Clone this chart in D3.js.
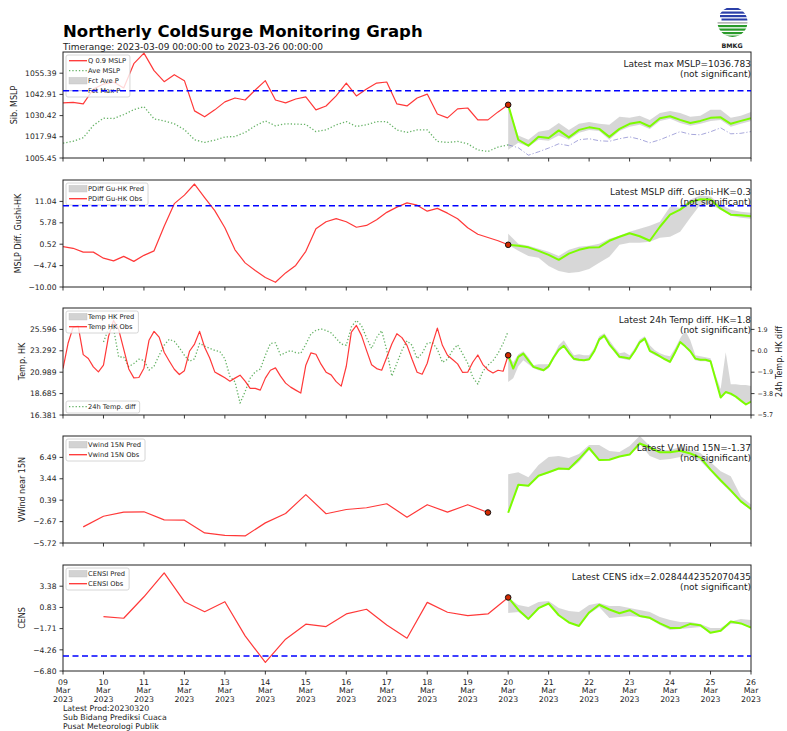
<!DOCTYPE html>
<html>
<head>
<meta charset="utf-8">
<script src="https://cdn.jsdelivr.net/npm/d3@7"></script>
<style>
body { margin: 0; background: #fff; }
svg { font-family: "DejaVu Sans", sans-serif; }
</style>
</head>
<body>
<div id="chart"></div>
<script>
// ---------- data ----------
// panel 1: Siberian MSLP, 6-hourly obs from 09 Mar 00Z, forecast 6-hourly from 20 Mar 00Z
var mslpQ90 = [1037.9, 1038.2, 1037.3, 1046.1, 1049.0, 1050.2, 1046.7, 1061.0, 1067.2, 1056.9, 1050.4, 1054.5, 1051.0, 1033.2, 1029.7, 1033.8, 1038.5, 1040.8, 1039.6, 1045.5, 1051.0, 1039.6, 1037.9, 1040.2, 1041.4, 1033.8, 1036.1, 1042.0, 1049.6, 1042.0, 1046.1, 1049.6, 1050.2, 1037.3, 1036.1, 1040.8, 1043.1, 1031.4, 1029.1, 1034.4, 1034.9, 1027.9, 1027.9, 1032.6, 1036.78];
var mslpAve = [1014.2, 1015.3, 1017.4, 1024.6, 1028.9, 1028.7, 1031.0, 1033.9, 1035.7, 1028.5, 1027.3, 1025.6, 1022.2, 1016.2, 1014.6, 1016.0, 1017.8, 1018.1, 1020.5, 1024.4, 1027.3, 1024.4, 1025.6, 1025.4, 1025.2, 1021.0, 1022.0, 1025.0, 1026.9, 1024.0, 1025.0, 1026.9, 1026.9, 1022.0, 1020.5, 1022.0, 1022.0, 1015.2, 1014.6, 1015.2, 1013.8, 1010.2, 1009.3, 1011.9, 1013.2];
var mslpFcMax = [1036.78, 1016.2, 1012.7, 1018.0, 1017.2, 1021.7, 1017.6, 1022.0, 1023.5, 1022.6, 1017.9, 1022.6, 1025.6, 1026.7, 1024.0, 1028.9, 1030.0, 1027.9, 1026.1, 1027.3, 1029.1, 1029.4, 1025.6, 1027.3, 1028.9];
var mslpFcLo = [1010.3, 1014.4, 1012.1, 1016.2, 1015.6, 1018.7, 1016.2, 1020.3, 1022.0, 1021.4, 1016.2, 1021.4, 1023.8, 1025.0, 1022.6, 1027.3, 1028.5, 1026.1, 1024.4, 1025.6, 1027.3, 1027.9, 1023.8, 1025.6, 1027.3];
var mslpFcHi = [1036.8, 1018.7, 1016.2, 1020.9, 1022.0, 1026.1, 1022.0, 1025.6, 1026.7, 1025.6, 1025.0, 1029.7, 1029.1, 1030.3, 1027.9, 1032.0, 1033.2, 1032.0, 1029.7, 1030.3, 1033.8, 1033.8, 1029.1, 1030.3, 1032.6];
var mslpFcAve = [1013.2, 1011.5, 1007.1, 1009.1, 1011.3, 1013.8, 1012.7, 1016.2, 1016.8, 1015.6, 1015.3, 1016.8, 1017.9, 1016.5, 1014.4, 1016.2, 1018.6, 1021.0, 1019.4, 1019.1, 1020.9, 1023.2, 1019.7, 1020.0, 1021.0];
var mslpTicks = [1005.45, 1017.94, 1030.42, 1042.91, 1055.39];

// panel 2: MSLP diff Gushi - HK
var pdiffObs = [-0.05, -0.49, -1.43, -1.43, -2.91, -3.58, -2.47, -3.70, -2.22, -1.11, 4.94, 10.49, 12.59, 15.31, 11.97, 8.76, 4.57, -0.86, -4.07, -5.93, -7.65, -8.84, -6.54, -4.69, -1.23, 4.32, 6.05, 6.79, 6.05, 4.69, 5.13, 6.54, 8.35, 9.63, 10.67, 10.12, 8.64, 9.33, 8.15, 6.79, 4.57, 2.96, 2.17, 1.36, 0.37];
var pdiffFc = [0.37, 0.12, -0.25, -1.11, -2.10, -3.33, -1.80, -0.86, -0.30, -0.20, 1.36, 2.35, 3.21, 2.47, 1.36, 4.81, 7.78, 9.01, 10.86, 11.55, 11.48, 9.26, 7.78, 7.65, 7.36];
var pdiffFcLo = [0.37, -1.11, -2.35, -2.84, -4.81, -6.05, -6.54, -6.30, -5.56, -4.07, -2.59, 0.37, 0.86, 0.86, 1.11, 2.10, 2.35, 3.58, 7.04, 10.25, 10.25, 9.01, 7.53, 7.04, 6.79];
var pdiffFcHi = [3.09, 0.62, 0.12, -0.62, -1.36, -2.35, -0.86, -0.12, 0.12, 0.62, 1.85, 2.59, 3.58, 4.32, 5.06, 6.05, 9.75, 9.51, 11.48, 12.47, 12.22, 10.25, 9.01, 8.52, 8.27];
var pdiffTicks = [-10.00, -4.74, 0.52, 5.78, 11.04];

// panel 3: HK temperature, 3-hourly obs from 09 Mar 00Z; 24h diff 3-hourly from 10 Mar 00Z
var tempObs = [21.38, 24.10, 25.81, 25.95, 22.88, 22.46, 21.56, 21.02, 21.74, 24.85,
  26.56, 25.60, 23.48, 21.34, 20.38, 20.42, 21.42, 24.42, 25.38, 24.77,
  23.13, 22.20, 21.31, 20.74, 21.15, 23.24, 24.02, 25.38, 23.67, 22.52,
  21.02, 20.70, 20.38, 20.02, 20.35, 20.67, 20.02, 19.24, 19.24, 19.06,
  20.35, 21.20, 21.45, 20.56, 19.81, 19.38, 19.06, 18.74, 21.74, 23.06,
  22.92, 21.85, 20.99, 20.70, 19.97, 19.49, 21.63, 25.31, 26.02, 24.95,
  23.34, 21.79, 21.38, 21.20, 22.60, 24.02, 25.13, 24.71, 23.88, 22.38,
  20.99, 20.77, 21.95, 23.99, 25.73, 23.88, 22.81, 22.35, 21.88, 20.96,
  20.99, 22.06, 22.84, 21.81, 21.23, 20.91, 21.20, 21.09, 22.81];
var tempDiff = [0.78, 1.94, 1.96, -0.55, -0.55, -1.41, -1.13, -0.75, -0.84, -1.72,
  -1.37, -0.40, 0.49, 1.02, 0.84, 0.27, -0.40, -0.93, -0.71, 0.66,
  0.42, 0.22, 0.04, -0.07, -0.71, -2.28, -2.76, -4.64, -3.62, -2.43,
  -1.87, -1.62, -0.40, 0.65, 0.71, -0.38, -0.16, 0.02, -0.16, -0.22,
  0.57, 1.50, 1.81, 1.94, 1.81, 1.59, 1.10, 0.60, 0.49, 2.12,
  2.70, 2.25, 1.15, 0.22, 1.19, 1.79, 0.04, -2.25, -1.10, 0.04,
  0.88, 0.49, -0.69, -0.22, 0.66, 0.75, 0.13, -1.02, -0.75, 0.04,
  0.53, -0.27, -1.10, -2.34, -2.96, -1.81, -1.28, -0.88, -0.22, 0.66, 1.72];
var tempFc = [22.81, 21.38, 22.63, 22.99, 22.27, 21.56, 21.38, 21.20, 21.63, 22.60, 23.40, 23.83, 23.08, 22.43, 22.33, 22.27, 22.38, 23.24, 24.52, 24.92, 23.99, 23.34, 22.65, 22.56, 22.46, 23.24, 24.20, 24.60, 23.29, 23.02, 22.70, 22.38, 22.11, 23.13, 24.23, 23.77, 23.24, 22.45, 22.32, 22.33, 22.17, 20.24, 18.26, 18.85, 18.68, 18.36, 17.93, 17.51, 17.83];
var tempFcLo = [19.92, 20.35, 21.63, 22.27, 21.85, 21.42, 21.20, 21.10, 21.42, 22.38, 23.24, 23.67, 22.92, 22.27, 22.17, 22.17, 22.27, 23.13, 24.31, 24.74, 23.77, 23.13, 22.49, 22.38, 22.27, 23.13, 24.10, 24.42, 23.13, 22.81, 22.60, 22.27, 21.95, 22.92, 24.10, 23.67, 23.13, 22.27, 22.17, 22.17, 22.06, 20.13, 18.20, 18.74, 18.52, 18.31, 17.88, 17.45, 17.77];
var tempFcHi = [22.81, 22.06, 22.92, 23.24, 22.60, 21.74, 21.85, 21.85, 21.85, 22.81, 23.88, 24.42, 23.56, 22.81, 22.92, 22.81, 22.81, 23.56, 24.85, 25.17, 24.42, 23.67, 23.02, 23.13, 22.81, 23.56, 24.52, 24.85, 23.88, 23.34, 23.02, 22.81, 22.70, 23.56, 24.63, 25.49, 24.42, 22.81, 22.70, 22.60, 22.49, 20.67, 19.17, 23.13, 19.70, 19.70, 19.60, 19.60, 19.49];
var tempTicks = [16.381, 18.685, 20.989, 23.292, 25.596];
var diffTicks = [-5.7, -3.8, -1.9, 0.0, 1.9];

// panel 4: V wind near 15N, 12-hourly obs from 09 Mar 12Z
var vwindObs = [-3.42, -1.90, -1.32, -1.27, -2.42, -2.47, -4.28, -4.63, -4.71, -2.85, -1.51, 1.18, -1.55, -0.94, -0.69, -0.12, -2.04, -0.26, -1.32, -0.26, -1.37];
var vwindFc = [-1.41, 2.58, 2.44, 3.88, 4.38, 4.91, 4.84, 6.25, 7.83, 6.10, 6.15, 6.61, 6.89, 8.47, 7.90, 7.21, 7.22, 7.43, 7.04, 6.45, 4.74, 3.23, 1.79, 0.21, -0.86];
var vwindFcLo = [-1.45, 2.51, 2.37, 3.81, 4.24, 4.81, 4.67, 5.82, 7.54, 5.96, 6.10, 6.53, 6.82, 8.40, 6.68, 6.10, 6.25, 6.53, 6.68, 5.96, 4.53, 2.94, 1.51, 0.07, -1.08];
var vwindFcHi = [4.09, 4.38, 3.66, 5.39, 6.53, 6.68, 6.39, 6.97, 8.26, 8.26, 7.40, 7.25, 8.11, 9.55, 8.11, 7.54, 7.54, 7.97, 7.54, 7.11, 5.82, 4.53, 3.81, 0.93, -0.22];
var vwindTicks = [-5.72, -2.67, 0.39, 3.44, 6.49];

// panel 5: CENS index, 12-hourly obs from 10 Mar 00Z
var censObs = [-0.28, -0.47, 2.11, 4.98, 1.52, 0.32, 1.52, -2.58, -5.77, -2.98, -1.18, -1.47, 0.05, 0.61, -1.27, -2.86, 1.44, 0.25, -0.16, 0.05, 2.03];
var censFc = [2.03, 0.56, -0.55, 0.74, 1.30, -0.11, -0.97, -1.39, 0.23, 1.15, 0.58, 0.14, 0.50, -0.19, -0.41, -1.09, -1.63, -1.63, -1.15, -1.30, -2.22, -1.98, -0.85, -1.09, -1.59];
var censFcLo = [0.17, 0.29, -0.55, 0.64, 1.24, -0.11, -0.97, -1.39, 0.05, 0.88, -0.43, -0.31, -0.19, -0.31, -0.55, -1.27, -1.87, -1.75, -1.63, -1.51, -2.22, -2.10, -1.15, -1.15, -1.63];
var censFcHi = [2.03, 1.12, 0.88, 1.48, 1.60, 0.76, 0.40, 0.28, 1.12, 1.36, 1.00, 1.00, 0.76, 0.52, 0.28, -0.31, -0.67, -0.91, -0.91, -1.15, -1.63, -1.63, -0.85, -0.55, -0.67];
var censTicks = [-6.80, -4.26, -1.71, 0.83, 3.38];

// ---------- helpers ----------
var H = 3600e3;
var t0 = Date.UTC(2023, 2, 9), t1 = Date.UTC(2023, 2, 26), tFc = Date.UTC(2023, 2, 20);
function times(start, stepH, n) {
	return d3.range(n).map(function(i) { return new Date(start + i * stepH * H); });
}
function fmt(v, n) { return v.toFixed(n).replace("-", "\u2212"); }

var RED = "#ff0000", LIME = "#7cfc00", GREEN = "#008000", BAND = "#d3d3d3";

var svg = d3.select("#chart").append("svg").attr("width", 787).attr("height", 731);
var x = d3.scaleUtc().domain([new Date(t0), new Date(t1)]).range([63, 751]);
var days = d3.utcDay.range(new Date(t0), new Date(t1 + 1));

function band(t, lo, hi) { return {t: t, lo: lo, hi: hi}; }
function line(t, v, color, w, dash, op, right) { return {t: t, v: v, color: color, w: w, dash: dash, op: op, right: right}; }

function legend(g, x0, y0, items) {
	var lg = g.append("g").attr("transform", "translate(" + x0 + "," + y0 + ")");
	var box = lg.append("rect").attr("rx", 2).attr("fill", "#fff").attr("fill-opacity", 0.8)
		.attr("stroke", "#cccccc").attr("stroke-width", 0.8);
	var maxW = 0;
	items.forEach(function(it, i) {
		var cy = 5.7 + i * 10;
		if (it.patch) {
			lg.append("rect").attr("x", 3).attr("y", cy - 3.3).attr("width", 18).attr("height", 6.6)
				.attr("fill", BAND).attr("stroke", "#bdbdbd").attr("stroke-width", 0.4);
		} else {
			lg.append("line").attr("x1", 3).attr("x2", 21).attr("y1", cy).attr("y2", cy)
				.attr("stroke", it.color).attr("stroke-width", it.w).attr("stroke-dasharray", it.dash || null)
				.attr("opacity", it.op || 1);
		}
		var tx = lg.append("text").attr("x", 22).attr("y", cy).attr("dy", "0.35em")
			.attr("font-size", 6.7).attr("fill", "#222").text(it.label);
		maxW = Math.max(maxW, tx.node().getComputedTextLength());
	});
	box.attr("width", maxW + 26).attr("height", items.length * 10 + 2);
}

function panel(cfg, idx) {
	var y = d3.scaleLinear().domain(cfg.domain).range([cfg.bottom, cfg.top]);
	var y2 = cfg.domain2 ? d3.scaleLinear().domain(cfg.domain2).range([cfg.bottom, cfg.top]) : null;
	var g = svg.append("g");
	var cid = "clip" + idx;
	svg.append("clipPath").attr("id", cid).append("rect")
		.attr("x", 63).attr("y", cfg.top).attr("width", 688).attr("height", cfg.bottom - cfg.top);
	var plot = g.append("g").attr("clip-path", "url(#" + cid + ")");

	cfg.series.forEach(function(s) {
		if (s.lo) {
			var rows = s.t.map(function(t, i) { return {t: t, lo: s.lo[i], hi: s.hi[i]}; });
			plot.append("path").datum(rows)
				.attr("d", d3.area().x(function(d) { return x(d.t); })
					.y0(function(d) { return y(d.lo); }).y1(function(d) { return y(d.hi); }))
				.attr("fill", BAND).attr("fill-opacity", 0.9);
		} else {
			var sc = s.right ? y2 : y;
			var pts = s.v.map(function(v, i) { return [s.t[i], v]; });
			plot.append("path").datum(pts)
				.attr("d", d3.line().x(function(d) { return x(d[0]); }).y(function(d) { return sc(d[1]); }))
				.attr("fill", "none").attr("stroke", s.color).attr("stroke-width", s.w)
				.attr("stroke-dasharray", s.dash || null).attr("opacity", s.op || 1)
				.attr("stroke-linejoin", "round");
		}
	});

	g.append("circle").attr("cx", x(cfg.dot[0])).attr("cy", y(cfg.dot[1])).attr("r", 2.8)
		.attr("fill", "#d42a00").attr("stroke", "#111").attr("stroke-width", 1);

	// frame
	g.append("rect").attr("x", 63).attr("y", cfg.top).attr("width", 688).attr("height", cfg.bottom - cfg.top)
		.attr("fill", "none").attr("stroke", "#222").attr("stroke-width", 1);

	// x ticks
	g.selectAll(".xt").data(days).enter().append("line")
		.attr("x1", function(d) { return x(d); }).attr("x2", function(d) { return x(d); })
		.attr("y1", cfg.bottom).attr("y2", cfg.bottom + 3.5).attr("stroke", "#222").attr("stroke-width", 0.9);

	// left y ticks
	cfg.ticks.forEach(function(v) {
		g.append("line").attr("x1", 63).attr("x2", 59.5).attr("y1", y(v)).attr("y2", y(v))
			.attr("stroke", "#222").attr("stroke-width", 0.9);
		g.append("text").attr("x", 56.5).attr("y", y(v)).attr("dy", "0.35em").attr("text-anchor", "end")
			.attr("font-size", 7.6).attr("fill", "#222").text(fmt(v, cfg.digits));
	});
	g.append("text").attr("transform", "translate(" + cfg.labelX + "," + ((cfg.top + cfg.bottom) / 2) + ") rotate(-90)")
		.attr("text-anchor", "middle").attr("dy", "0.35em").attr("font-size", 8).attr("fill", "#222").text(cfg.label);

	if (y2) {
		cfg.ticks2.forEach(function(v) {
			g.append("line").attr("x1", 751).attr("x2", 754.5).attr("y1", y2(v)).attr("y2", y2(v))
				.attr("stroke", "#222").attr("stroke-width", 0.9);
			g.append("text").attr("x", 757.5).attr("y", y2(v)).attr("dy", "0.35em")
				.attr("font-size", 6.4).attr("fill", "#222").text(fmt(v, 1));
		});
		g.append("text").attr("transform", "translate(779," + ((cfg.top + cfg.bottom) / 2) + ") rotate(-90)")
			.attr("text-anchor", "middle").attr("dy", "0.35em").attr("font-size", 8).attr("fill", "#222").text(cfg.label2);
	}

	legend(g, 66, cfg.top + 3, cfg.legend);
	if (cfg.legend2) legend(g, 66, cfg.bottom - 14, cfg.legend2);

	if (cfg.thresh != null) {
		g.append("line").attr("x1", 63).attr("x2", 751).attr("y1", y(cfg.thresh)).attr("y2", y(cfg.thresh))
			.attr("stroke", "#0000ff").attr("stroke-width", 1.5).attr("stroke-dasharray", "6,3.5");
	}

	g.append("text").attr("x", 751).attr("y", cfg.top + 14.5).attr("text-anchor", "end")
		.attr("font-size", 9).attr("fill", "#222").text(cfg.note);
	g.append("text").attr("x", 751).attr("y", cfg.top + 25).attr("text-anchor", "end")
		.attr("font-size", 9).attr("fill", "#222").text("(not significant)");
	return g;
}

var tObs6 = times(t0, 6, mslpQ90.length);
var tFc6 = times(tFc, 6, 25);
var tFc3 = times(tFc, 3, tempFc.length);
var tObs3 = times(t0, 3, tempObs.length);
var tDiff3 = times(t0 + 24 * H, 3, tempDiff.length);
var tWind12 = times(t0 + 12 * H, 12, vwindObs.length);
var tCens12 = times(t0 + 24 * H, 12, censObs.length);

var panels = [
	{top: 52, bottom: 158, domain: [1005.45, 1067.875], ticks: mslpTicks, digits: 2, label: "Sib. MSLP", labelX: 14,
		thresh: 1045, note: "Latest max MSLP=1036.783", dot: [new Date(tFc), 1036.78],
		series: [band(tFc6, mslpFcLo, mslpFcHi),
			line(tObs6, mslpAve, GREEN, 1.3, "1.3,2", 0.6),
			line(tFc6, mslpFcAve, "#7878c8", 1, "5,2,1.2,2", 0.65),
			line(tObs6, mslpQ90, RED, 1.2, null, 0.78),
			line(tFc6, mslpFcMax, LIME, 2)],
		legend: [{label: "Q 0.9 MSLP", color: RED, w: 1.3, op: 0.8},
			{label: "Ave MSLP", color: GREEN, w: 1.3, dash: "1.3,2", op: 0.6},
			{label: "Fct Ave P", patch: true},
			{label: "Fct Max P", color: "#7878c8", w: 1, dash: "5,2,1.2,2", op: 0.65}]},
	{top: 180, bottom: 287, domain: [-10, 16.3], ticks: pdiffTicks, digits: 2, label: "MSLP Diff. Gushi-HK", labelX: 18,
		thresh: 10, note: "Latest MSLP diff. Gushi-HK=0.3", dot: [new Date(tFc), 0.37],
		series: [band(tFc6, pdiffFcLo, pdiffFcHi),
			line(tObs6, pdiffObs, RED, 1.2, null, 0.78),
			line(tFc6, pdiffFc, LIME, 2)],
		legend: [{label: "PDiff Gu-HK Pred", patch: true}, {label: "PDiff Gu-HK Obs", color: RED, w: 1.3, op: 0.8}]},
	{top: 308, bottom: 415, domain: [16.381, 27.899], ticks: tempTicks, digits: 3, label: "Temp. HK", labelX: 22.5,
		domain2: [-5.7, 3.8], ticks2: diffTicks, label2: "24h Temp. HK diff",
		thresh: null, note: "Latest 24h Temp diff. HK=1.8", dot: [new Date(tFc), 22.81],
		series: [band(tFc3, tempFcLo, tempFcHi),
			line(tDiff3, tempDiff, GREEN, 1.3, "1.3,2", 0.6, true),
			line(tObs3, tempObs, RED, 1.2, null, 0.78),
			line(tFc3, tempFc, LIME, 2)],
		legend: [{label: "Temp HK Pred", patch: true}, {label: "Temp HK Obs", color: RED, w: 1.3, op: 0.8}],
		legend2: [{label: "24h Temp. diff", color: GREEN, w: 1.3, dash: "1.3,2", op: 0.6}]},
	{top: 436, bottom: 543, domain: [-5.72, 9.54], ticks: vwindTicks, digits: 2, label: "VWind near 15N", labelX: 22.5,
		thresh: null, note: "Latest V Wind 15N=-1.37", dot: [tWind12[tWind12.length - 1], -1.37],
		series: [band(tFc6, vwindFcLo, vwindFcHi),
			line(tWind12, vwindObs, RED, 1.2, null, 0.78),
			line(tFc6, vwindFc, LIME, 2)],
		legend: [{label: "Vwind 15N Pred", patch: true}, {label: "Vwind 15N Obs", color: RED, w: 1.3, op: 0.8}]},
	{top: 565, bottom: 671, domain: [-6.8, 5.925], ticks: censTicks, digits: 2, label: "CENS", labelX: 22.5,
		thresh: -5, note: "Latest CENS idx=2.0284442352070435", dot: [new Date(tFc), 2.03],
		series: [band(tFc6, censFcLo, censFcHi),
			line(tCens12, censObs, RED, 1.2, null, 0.78),
			line(tFc6, censFc, LIME, 2)],
		legend: [{label: "CENSI Pred", patch: true}, {label: "CENSI Obs", color: RED, w: 1.3, op: 0.8}]}
];

panels.forEach(panel);

// x tick labels on the bottom panel
var xl = svg.append("g").attr("font-size", 7.8).attr("fill", "#222").attr("text-anchor", "middle");
days.forEach(function(d) {
	var t = xl.append("text").attr("x", x(d)).attr("y", 684.5);
	t.append("tspan").attr("x", x(d)).text(d3.utcFormat("%d")(d));
	t.append("tspan").attr("x", x(d)).attr("dy", 8.7).text(d3.utcFormat("%b")(d));
	t.append("tspan").attr("x", x(d)).attr("dy", 8.7).text(d3.utcFormat("%Y")(d));
});

// title
svg.append("text").attr("x", 63).attr("y", 37).attr("font-size", 16.5).attr("font-weight", "bold")
	.attr("fill", "#000").text("Northerly ColdSurge Monitoring Graph");
svg.append("text").attr("x", 63).attr("y", 49.5).attr("font-size", 9).attr("fill", "#222")
	.text("Timerange: 2023-03-09 00:00:00 to 2023-03-26 00:00:00");

// footer
["Latest Prod:20230320", "Sub Bidang Prediksi Cuaca", "Pusat Meteorologi Publik"].forEach(function(s, i) {
	svg.append("text").attr("x", 63).attr("y", 711 + i * 9).attr("font-size", 7.8).attr("fill", "#222").text(s);
});

// BMKG logo
var logo = svg.append("g").attr("transform", "translate(732.5,22)");
svg.append("clipPath").attr("id", "logoclip").append("circle").attr("cx", 732.5).attr("cy", 22).attr("r", 15);
var lc = logo.append("g").attr("clip-path", "url(#logoclip)").attr("transform", "translate(-732.5,-22)");
lc.append("circle").attr("cx", 732.5).attr("cy", 22).attr("r", 15).attr("fill", "#fff");
[[8, 2], [11.5, 2.2], [15, 2.2], [18.5, 2]].forEach(function(s, i) {
	lc.append("rect").attr("x", 717 + i * 1.5).attr("y", s[0]).attr("width", 31).attr("height", s[1]).attr("fill", "#2b3fa8");
});
lc.append("rect").attr("x", 717).attr("y", 22.3).attr("width", 31).attr("height", 1.2).attr("fill", "#9a9a9a");
[[25, 2.2], [28.5, 2.2], [32, 2.2], [35.5, 2]].forEach(function(s, i) {
	lc.append("rect").attr("x", 716 + i).attr("y", s[0]).attr("width", 31).attr("height", s[1]).attr("fill", "#2a9a2a");
});
svg.append("text").attr("x", 732).attr("y", 47.5).attr("text-anchor", "middle").attr("font-size", 6.3)
	.attr("font-weight", "bold").attr("fill", "#222").text("BMKG");
</script>
</body>
</html>
